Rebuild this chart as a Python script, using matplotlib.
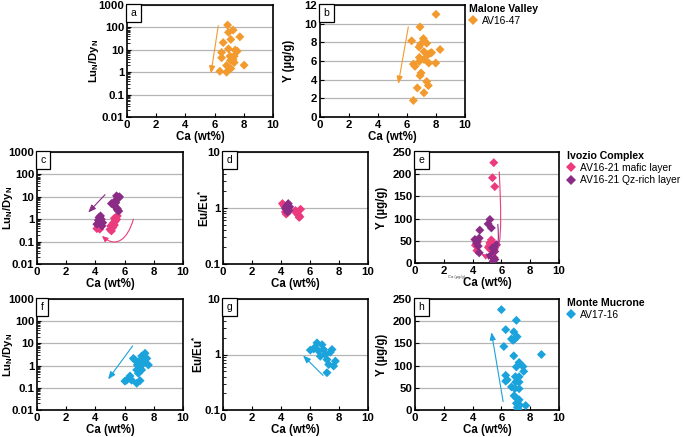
import matplotlib
matplotlib.use("Agg")
import matplotlib.pyplot as plt
from matplotlib.lines import Line2D
from matplotlib.patches import FancyArrowPatch
from matplotlib.path import Path

plt.rcParams['font.family'] = ['Liberation Sans', 'DejaVu Sans']
plt.rcParams['mathtext.fontset'] = 'custom'
plt.rcParams['mathtext.rm'] = 'Liberation Sans'
plt.rcParams['mathtext.bf'] = 'Liberation Sans:bold'
plt.rcParams['mathtext.it'] = 'Liberation Sans:italic'

# ---------------- data ----------------
# Malone Valley AV16-47
ca_a = [6.89, 6.95, 7.27, 6.59, 7.11, 7.73, 6.95, 6.48, 7.41, 7.55, 6.48, 7.05, 7.2, 7.34, 7.09, 7.27, 7.34, 6.82, 8.02, 7.11, 6.36, 6.82]
lu_a = [127, 60, 76, 21, 29, 38, 11, 7.6, 9.7, 8.7, 4.4, 5.2, 4.5, 5.2, 3.4, 3.7, 2.7, 2.0, 2.06, 1.46, 1.1, 1.0]
ca_b = [8.0, 6.9, 6.32, 7.13, 7.36, 6.94, 6.83, 8.28, 7.17, 7.59, 7.43, 7.7, 6.85, 7.17, 6.85, 7.5, 7.98, 6.44, 6.55, 6.97, 6.9, 7.36, 7.47, 6.71, 7.17, 6.44]
y_b = [11.0, 9.65, 8.16, 8.4, 7.9, 7.8, 7.5, 7.23, 7.0, 6.84, 6.67, 6.9, 6.38, 6.17, 5.96, 5.78, 5.78, 5.67, 5.43, 4.72, 4.43, 3.8, 3.37, 3.12, 2.59, 1.77]

# Ivozio Complex AV16-21
ca_c_maf = [4.1, 4.2, 4.3, 4.4, 4.25, 5.0, 5.1, 5.2, 5.3, 5.35, 5.45, 5.5, 5.25, 5.15, 5.3, 5.05, 5.4]
lu_c_maf = [0.38, 0.45, 0.36, 0.5, 0.6, 0.35, 0.3, 0.45, 0.55, 0.8, 1.0, 1.4, 0.7, 0.4, 1.1, 0.5, 0.9]
ca_c_qz = [4.1, 4.3, 4.4, 4.25, 4.5, 4.35, 4.2, 4.45, 5.1, 5.3, 5.4, 5.5, 5.6, 5.45, 5.25, 5.35, 5.6, 5.5, 5.65]
lu_c_qz = [0.6, 0.8, 1.0, 1.2, 0.7, 1.4, 0.9, 0.5, 5.0, 4.0, 5.5, 3.0, 2.3, 11, 4.5, 6.5, 9, 2.6, 10]
ca_d_maf = [4.1, 4.2, 4.3, 4.35, 4.45, 5.0, 5.1, 5.2, 5.3, 5.35, 5.25, 5.05]
eu_d_maf = [1.2, 1.1, 0.85, 0.78, 0.82, 0.9, 0.85, 0.75, 0.7, 0.95, 0.68, 0.82]
ca_d_qz = [4.3, 4.4, 4.5, 4.55, 4.45, 4.35, 4.6]
eu_d_qz = [1.0, 1.1, 1.2, 0.9, 0.85, 0.95, 1.05]
ca_e_maf = [5.47, 5.38, 5.54, 5.1, 5.2, 5.3, 5.4, 5.25, 5.35, 4.2, 4.3, 4.35, 5.3, 5.5, 5.15]
y_e_maf = [226, 192, 172, 35, 45, 52, 40, 30, 48, 40, 28, 48, 15, 12, 38]
ca_e_qz = [5.2, 5.08, 5.3, 4.5, 4.46, 4.16, 4.27, 4.39, 5.66, 5.38, 5.54, 5.31, 5.47, 5.42, 4.46, 4.3, 5.55]
y_e_qz = [98, 88, 79, 74, 56, 53, 45, 38, 41, 34, 26, 19, 11, 4, 23, 50, 8]

# Monte Mucrone AV17-16
ca_f = [7.4, 7.17, 7.52, 6.71, 6.94, 7.29, 7.63, 7.06, 6.83, 6.94, 6.37, 6.14, 6.02, 6.48, 6.83, 7.06, 6.6, 7.17, 7.29, 6.87]
lu_f = [3.6, 2.7, 2.1, 1.8, 1.5, 1.27, 1.07, 0.9, 0.64, 0.45, 0.34, 0.22, 0.2, 0.22, 0.16, 0.21, 2.1, 0.64, 2.1, 1.07]
ca_g = [6.48, 6.02, 6.25, 7.17, 7.75, 7.63, 7.52, 6.94, 7.06, 7.17, 7.29, 6.71, 6.6, 6.83, 6.35, 7.4]
eu_g = [1.62, 1.2, 1.26, 0.47, 0.76, 0.62, 1.23, 1.23, 1.0, 0.81, 0.66, 0.93, 1.15, 1.5, 1.35, 1.1]
ca_h = [6.0, 7.04, 6.3, 6.86, 6.7, 6.93, 7.09, 6.81, 6.17, 8.78, 6.86, 7.23, 7.04, 7.5, 7.55, 6.3, 6.4, 6.3, 6.97, 7.23,
        7.0, 7.23, 6.7, 6.93, 7.23, 6.88, 7.04, 7.23, 7.04, 7.27, 7.69, 7.11, 7.16]
y_h = [226, 202, 181, 176, 160, 160, 165, 157, 143, 125, 122, 107, 97, 98, 87, 78, 68, 65, 75, 75,
       63, 63, 52, 48, 48, 32, 27, 23, 15, 11, 10, 6, 2]

c_orange = '#F39A2E'
c_pink = '#EC3A7E'
c_purple = '#8A2C86'
c_blue = '#1BA3DC'

W, H = 685, 437
fig = plt.figure(figsize=(W / 100, H / 100), dpi=100)

LABEL_FS = 8.3
TICK_FS = 8.2


def make_ax(left, top, right, bottom):
    return fig.add_axes([left / W, 1 - bottom / H, (right - left) / W, (bottom - top) / H])


def style(ax, label, kind, ylab_x):
    ax.set_xlim(0, 10)
    ax.set_xticks([0, 2, 4, 6, 8, 10])
    if kind == 'lu':
        ax.set_yscale('log')
        ax.set_ylim(0.01, 1000)
        ax.set_yticks([0.01, 0.1, 1, 10, 100, 1000])
        ax.set_yticklabels(['0.01', '0.1', '1', '10', '100', '1000'])
        ax.set_ylabel(r'$\mathbf{Lu_N/Dy_N}$', fontsize=8.0)
    elif kind == 'eu':
        ax.set_yscale('log')
        ax.set_ylim(0.1, 10)
        ax.set_yticks([0.1, 1, 10])
        ax.set_yticklabels(['0.1', '1', '10'])
        ax.set_ylabel(r'$\mathbf{Eu/Eu^{*}}$', fontsize=LABEL_FS)
    elif kind == 'y12':
        ax.set_ylim(0, 12)
        ax.set_yticks(range(0, 13, 2))
        ax.set_ylabel('Y (µg/g)', fontsize=LABEL_FS, fontweight='bold')
    else:
        ax.set_ylim(0, 250)
        ax.set_yticks(range(0, 251, 50))
        ax.set_ylabel('Y (µg/g)', fontsize=LABEL_FS, fontweight='bold')
    ax.yaxis.set_label_coords(ylab_x, 0.5)
    ax.set_xlabel('Ca (wt%)', fontsize=LABEL_FS, fontweight='bold', labelpad=1)
    ax.yaxis.grid(True, which='major', color='#B5B5B5', lw=0.9)
    ax.set_axisbelow(True)
    ax.tick_params(direction='in', labelsize=TICK_FS, width=0.8, length=3, pad=2)
    ax.tick_params(which='minor', direction='in', width=0.6, length=2)
    for lab in ax.get_xticklabels() + ax.get_yticklabels():
        lab.set_fontweight('bold')
    for s in ax.spines.values():
        s.set_linewidth(1.2)
    ax.text(0.025, 0.975, label, transform=ax.transAxes, ha='left', va='top', fontsize=7.5,
            bbox=dict(boxstyle='square,pad=0.4', fc='white', ec='black', lw=0.9), zorder=5)


def sc(ax, x, y, c):
    ax.scatter(x, y, marker='D', s=21, color=c, edgecolors='none', zorder=3)


def arrow(ax, p0, p1, c):
    ax.annotate('', xy=p1, xytext=p0,
                arrowprops=dict(arrowstyle='-|>,head_length=0.45,head_width=0.18', color=c, lw=0.8,
                                shrinkA=0, shrinkB=0), zorder=4)


def curve(ax, pts, c):
    p = Path(pts, [Path.MOVETO, Path.CURVE4, Path.CURVE4, Path.CURVE4])
    patch = FancyArrowPatch(path=p, arrowstyle='-|>,head_length=3.5,head_width=1.6', color=c, lw=0.8,
                            transform=ax.transData, zorder=4)
    ax.add_patch(patch)


# row 1
ax_a = make_ax(127, 5, 273, 117)
style(ax_a, 'a', 'lu', -0.175)
sc(ax_a, ca_a, lu_a, c_orange)
arrow(ax_a, (6.25, 118), (5.75, 0.87), c_orange)

ax_b = make_ax(320, 5, 465, 117)
style(ax_b, 'b', 'y12', -0.17)
sc(ax_b, ca_b, y_b, c_orange)
arrow(ax_b, (6.09, 9.65), (5.40, 3.55), c_orange)

# row 2
ax_c = make_ax(37, 152, 183, 264)
style(ax_c, 'c', 'lu', -0.148)
sc(ax_c, ca_c_maf, lu_c_maf, c_pink)
sc(ax_c, ca_c_qz, lu_c_qz, c_purple)
arrow(ax_c, (4.66, 12.4), (3.51, 2.0), c_purple)
curve(ax_c, [(6.6, 1.0), (6.2, 0.12), (5.4, 0.05), (4.45, 0.18)], c_pink)

ax_d = make_ax(223, 152, 368, 264)
style(ax_d, 'd', 'eu', -0.075)
sc(ax_d, ca_d_maf, eu_d_maf, c_pink)
sc(ax_d, ca_d_qz, eu_d_qz, c_purple)

ax_e = make_ax(415, 152, 559, 263)
style(ax_e, 'e', 'y250', -0.19)
sc(ax_e, ca_e_maf, y_e_maf, c_pink)
sc(ax_e, ca_e_qz, y_e_qz, c_purple)
curve(ax_e, [(5.85, 205), (6.1, 40), (5.95, -2), (4.6, 20)], c_pink)
curve(ax_e, [(5.75, 87), (5.9, 30), (5.6, 0), (4.9, 22)], c_purple)
fig.text(465 / W, 1 - 277 / H, 'Ca (µg/g)', fontsize=3, va='center', ha='right', color='#444444')

# row 3
ax_f = make_ax(37, 299, 183, 410)
style(ax_f, 'f', 'lu', -0.148)
sc(ax_f, ca_f, lu_f, c_blue)
arrow(ax_f, (6.55, 7.7), (4.87, 0.24), c_blue)

ax_g = make_ax(223, 299, 368, 410)
style(ax_g, 'g', 'eu', -0.12)
sc(ax_g, ca_g, eu_g, c_blue)
arrow(ax_g, (6.9, 0.42), (5.52, 0.96), c_blue)

ax_h = make_ax(415, 299, 559, 410)
style(ax_h, 'h', 'y250', -0.19)
sc(ax_h, ca_h, y_h, c_blue)
arrow(ax_h, (6.12, 19), (5.31, 175), c_blue)


def legend(x, y, title, entries):
    handles = [Line2D([], [], marker='D', ls='none', color=c, markersize=4.8, markeredgewidth=0) for _, c in entries]
    lg = fig.legend(handles, [t for t, _ in entries], title=title, loc='upper left',
                    bbox_to_anchor=(x / W, 1 - y / H), frameon=False, fontsize=7.4,
                    title_fontproperties={'weight': 'bold', 'size': 7.6}, alignment='left',
                    handlelength=0.8, handletextpad=0.5, borderpad=0, borderaxespad=0,
                    labelspacing=0.2)
    return lg


legend(469, 4, 'Malone Valley', [('AV16-47', c_orange)])
legend(567, 151, 'Ivozio Complex', [('AV16-21 mafic layer', c_pink), ('AV16-21 Qz-rich layer', c_purple)])
legend(567, 298, 'Monte Mucrone', [('AV17-16', c_blue)])

fig.savefig('out.png', dpi=100)
